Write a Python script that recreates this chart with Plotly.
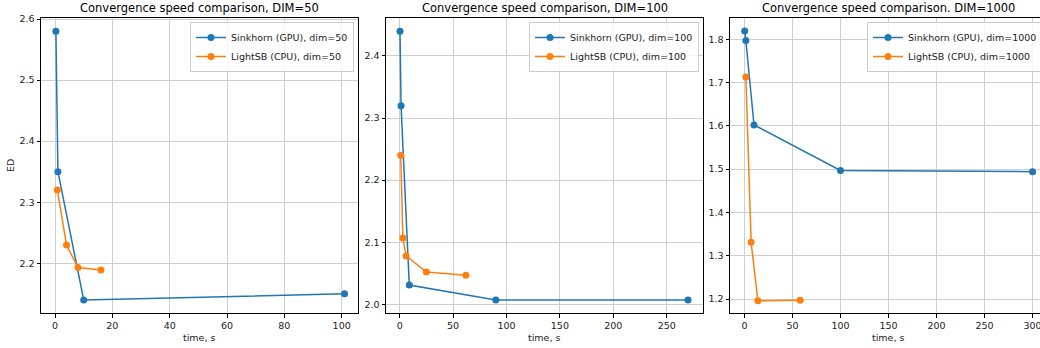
import plotly.graph_objects as go

# ---- data ----
titles = ["Convergence speed comparison, DIM=50",
          "Convergence speed comparison, DIM=100",
          "Convergence speed comparison. DIM=1000"]
dims = [50, 100, 1000]

sink_t_50 = [0.3, 1.0, 10.0, 101.0]
sink_ed_50 = [2.58, 2.35, 2.14, 2.15]
light_t_50 = [0.8, 4.0, 8.0, 16.0]
light_ed_50 = [2.32, 2.23, 2.193, 2.189]

sink_t_100 = [0.3, 1.3, 9.0, 90.0, 270.0]
sink_ed_100 = [2.44, 2.32, 2.031, 2.007, 2.007]
light_t_100 = [1.0, 3.0, 6.0, 25.0, 62.0]
light_ed_100 = [2.24, 2.107, 2.078, 2.052, 2.047]

sink_t_1000 = [0.3, 1.5, 10.0, 100.0, 300.0]
sink_ed_1000 = [1.819, 1.797, 1.602, 1.497, 1.494]
light_t_1000 = [1.5, 7.0, 14.0, 58.0]
light_ed_1000 = [1.713, 1.331, 1.196, 1.197]

x_ticks = [[0, 20, 40, 60, 80, 100],
           [0, 50, 100, 150, 200, 250],
           [0, 50, 100, 150, 200, 250, 300]]
y_ticks = [[2.2, 2.3, 2.4, 2.5, 2.6],
           [2.0, 2.1, 2.2, 2.3, 2.4],
           [1.2, 1.3, 1.4, 1.5, 1.6, 1.7, 1.8]]

# ---- layout constants ----
W, H = 1048, 348  # page clips at 1040, like the reference
BLUE, ORANGE = "#1f77b4", "#ff7f0e"
FONT = "DejaVu Sans"
px_left = [41, 386, 730]
px_right = [358, 703, 1047]
top_px, bot_px = 18, 313
x_ranges = [[-4.9, 105.7], [-12.8, 284.0], [-15.0, 315.0]]
y_ranges = [[2.1186, 2.6017], [1.986, 2.4612], [1.1677, 1.849]]

series = [
    (sink_t_50, sink_ed_50, light_t_50, light_ed_50),
    (sink_t_100, sink_ed_100, light_t_100, light_ed_100),
    (sink_t_1000, sink_ed_1000, light_t_1000, light_ed_1000),
]

fig = go.Figure()
layout = dict(
    width=W, height=H,
    margin=dict(l=0, r=0, t=0, b=0, autoexpand=False),
    paper_bgcolor="white", plot_bgcolor="white",
    font=dict(family=FONT, size=9, color="#000"),
    showlegend=True,
    annotations=[],
)

for i in range(3):
    xs, ys, xl, yl = series[i]
    sfx = "" if i == 0 else str(i + 1)
    leg = "legend" if i == 0 else f"legend{i + 1}"
    fig.add_trace(go.Scatter(
        x=xs, y=ys, mode="lines+markers",
        name=f"Sinkhorn (GPU), dim={dims[i]}",
        line=dict(color=BLUE, width=1.5),
        marker=dict(color=BLUE, size=7),
        xaxis="x" + sfx, yaxis="y" + sfx, legend=leg,
    ))
    fig.add_trace(go.Scatter(
        x=xl, y=yl, mode="lines+markers",
        name=f"LightSB (CPU), dim={dims[i]}",
        line=dict(color=ORANGE, width=1.5),
        marker=dict(color=ORANGE, size=7),
        xaxis="x" + sfx, yaxis="y" + sfx, legend=leg,
    ))
    xd = [px_left[i] / W, px_right[i] / W]
    yd = [1 - bot_px / H, 1 - top_px / H]
    axcommon = dict(
        showgrid=True, gridcolor="#cfcfcf", gridwidth=0.8,
        zeroline=False, showline=True, linecolor="#000", linewidth=1,
        ticks="outside", ticklen=3.5, tickwidth=0.8, tickcolor="#000",
        tickfont=dict(family=FONT, size=9.5, color="#222"),
        fixedrange=True,
    )
    layout["xaxis" + sfx] = dict(
        axcommon, domain=xd, range=x_ranges[i], tickvals=x_ticks[i],
        anchor="y" + sfx, mirror=True,
    )
    layout["yaxis" + sfx] = dict(
        axcommon, domain=yd, range=y_ranges[i], tickvals=y_ticks[i],
        tickformat=".1f", anchor="x" + sfx, mirror=True,
    )
    cx = (px_left[i] + px_right[i]) / 2 / W
    layout["annotations"].append(dict(
        text=titles[i], x=cx, y=1 - 8 / H, xref="paper", yref="paper",
        xanchor="center", yanchor="middle", showarrow=False,
        font=dict(family=FONT, size=11.5, color="#000"),
    ))
    layout["annotations"].append(dict(
        text="time, s", x=cx, y=1 - 337 / H, xref="paper", yref="paper",
        xanchor="center", yanchor="middle", showarrow=False,
        font=dict(family=FONT, size=9.5, color="#222"),
    ))
    layout[leg] = dict(
        x=(px_right[i] - 4) / W, y=1 - (top_px + 4) / H,
        xanchor="right", yanchor="top",
        bgcolor="rgba(255,255,255,0.8)", bordercolor="#cccccc", borderwidth=1,
        font=dict(family=FONT, size=9.5, color="#222"),
        itemwidth=30, tracegroupgap=0,
    )

layout["annotations"].append(dict(
    text="ED", x=10 / W, y=1 - 166 / H, xref="paper", yref="paper",
    xanchor="center", yanchor="middle", showarrow=False, textangle=-90,
    font=dict(family=FONT, size=9.5, color="#222"),
))

fig.update_layout(**layout)
fig.write_html(
    "out.html",
    config={"displayModeBar": False},
    post_script="document.body.style.margin='0';document.body.style.overflow='hidden';",
)
